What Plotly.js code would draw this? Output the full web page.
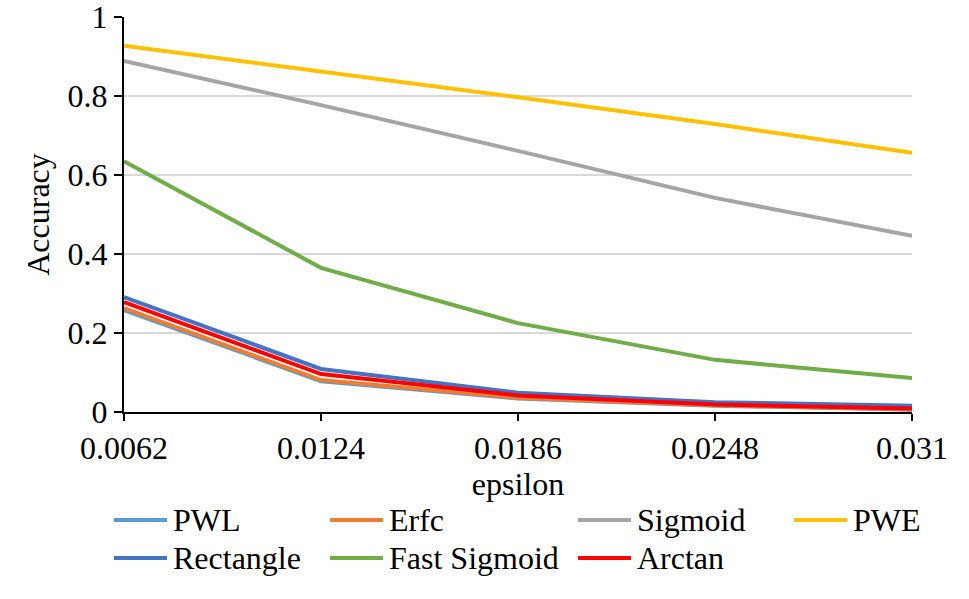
<!DOCTYPE html>
<html>
<head>
<meta charset="utf-8">
<script src="https://cdn.plot.ly/plotly-3.0.1.min.js"></script>
<style>html,body{margin:0;padding:0;background:#fff;}#chart{width:969px;height:599px;}</style>
</head>
<body>
<div id="chart"></div>
<script>
const epsilon = [0.0062, 0.0124, 0.0186, 0.0248, 0.031];
const tickLabels = ["0.0062", "0.0124", "0.0186", "0.0248", "0.031"];
const PWL = [0.258, 0.078, 0.034, 0.016, 0.006];
const Erfc = [0.263, 0.081, 0.036, 0.017, 0.007];
const Sigmoid = [0.889, 0.777, 0.661, 0.542, 0.446];
const PWE = [0.927, 0.863, 0.797, 0.729, 0.656];
const Rectangle = [0.291, 0.109, 0.049, 0.025, 0.016];
const FastSigmoid = [0.635, 0.365, 0.225, 0.132, 0.086];
const Arctan = [0.278, 0.096, 0.042, 0.019, 0.009];
const yTicks = [0, 0.2, 0.4, 0.6, 0.8, 1];
const yTickLabels = ["0", "0.2", "0.4", "0.6", "0.8", "1"];

const seriesNames = ["PWL", "Erfc", "Sigmoid", "PWE", "Rectangle", "Fast Sigmoid", "Arctan"];
const seriesValues = [PWL, Erfc, Sigmoid, PWE, Rectangle, FastSigmoid, Arctan];
const seriesColors = ["#5B9BD5", "#ED7D31", "#A5A5A5", "#FFC000", "#4472C4", "#70AD47", "#FF0000"];

const traces = seriesNames.map((n, i) => ({
  type: "scatter", mode: "lines", x: epsilon, y: seriesValues[i], name: n,
  line: {color: seriesColors[i], width: 4}, showlegend: false
}));

function f() { return {family: "Liberation Serif", size: 32, color: "#000"}; }
const W = 969, H = 599;
const L = 124, R = 57, T = 17, B = 187;
const pw = W - L - R, ph = H - T - B;
const px = v => (v - L) / pw;
const py = v => (H - B - v) / ph;

// legend layout (pixel positions in the picture): columns and rows
const legCols = [114, 330, 578, 794];
const legRows = [520, 558];
const shapes = [], annotations = [];
seriesNames.forEach((n, i) => {
  const c = legCols[i % 4], r = legRows[Math.floor(i / 4)];
  shapes.push({type: "line", xref: "paper", yref: "paper", x0: px(c), x1: px(c + 53), y0: py(r), y1: py(r),
    line: {color: seriesColors[i], width: 4}});
  annotations.push({xref: "paper", yref: "paper", x: px(c + 57), y: py(r), xanchor: "left", yanchor: "middle",
    text: n, showarrow: false, font: f()});
});

const layout = {
  width: W, height: H,
  margin: {l: L, r: R, t: T, b: B, autoexpand: false},
  paper_bgcolor: "#fff", plot_bgcolor: "#fff",
  font: f(),
  showlegend: false,
  hovermode: false,
  xaxis: {
    range: [0.0062, 0.031], tickvals: epsilon, ticktext: tickLabels,
    showgrid: false, zeroline: false, showline: true, linecolor: "#000", linewidth: 2,
    ticks: "outside", ticklen: 7, tickwidth: 2, tickcolor: "#000", tickfont: f(),
    ticklabeloverflow: "allow",
    title: {text: "epsilon", font: f(), standoff: 0}
  },
  yaxis: {
    range: [0, 1], tickvals: yTicks, ticktext: yTickLabels,
    showgrid: true, gridcolor: "#d9d9d9", gridwidth: 1.5,
    zeroline: false, showline: true, linecolor: "#000", linewidth: 2,
    ticks: "outside", ticklen: 8, tickwidth: 2, tickcolor: "#000", tickfont: f(),
    ticklabeloverflow: "allow",
    title: {text: "Accuracy", font: f()}
  },
  shapes: shapes,
  annotations: annotations
};

Plotly.newPlot("chart", traces, layout, {staticPlot: true, displayModeBar: false});
</script>
</body>
</html>
